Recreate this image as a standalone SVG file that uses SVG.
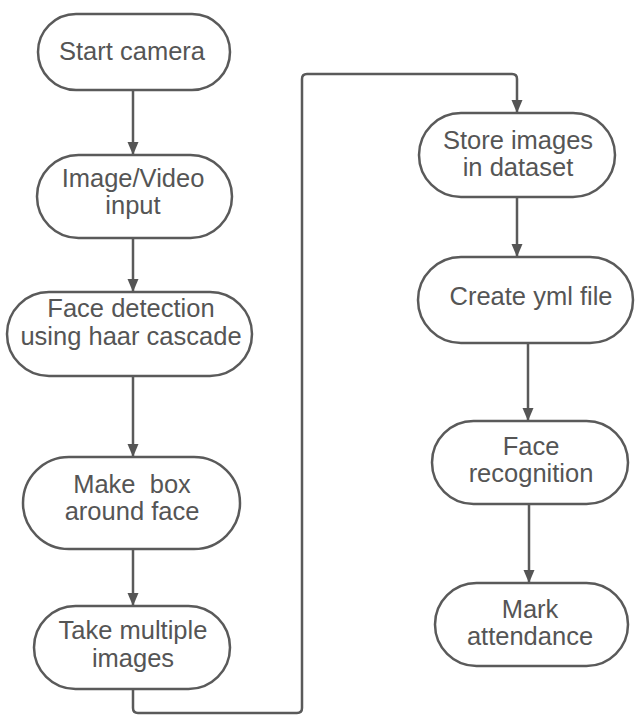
<svg xmlns="http://www.w3.org/2000/svg" width="638" height="719" viewBox="0 0 638 719">
<style>
.n{fill:#fff;stroke:#5a5a5a;stroke-width:2.5}
.t{font-family:"Liberation Sans",Arial,sans-serif;font-size:25.5px;fill:#555;text-anchor:middle}
.c{fill:none;stroke:#5a5a5a;stroke-width:2.5}
</style>
<defs>
<marker id="ah" markerUnits="userSpaceOnUse" markerWidth="14" markerHeight="12" refX="13" refY="5.5" orient="auto">
<path d="M0,0 L13,5.5 L0,11 z" fill="#555"/>
</marker>
</defs>
<rect width="638" height="719" fill="#fff"/>
<g id="connectors">
<path class="c" d="M133,90 V155" marker-end="url(#ah)"/>
<path class="c" d="M133,238 V292" marker-end="url(#ah)"/>
<path class="c" d="M133,376 V457" marker-end="url(#ah)"/>
<path class="c" d="M133,549 V606" marker-end="url(#ah)"/>
<path class="c" d="M133,689 V708 Q133,713 138,713 H297 Q302,713 302,708 V79 Q302,74 307,74 H512 Q517,74 517,79 V113" marker-end="url(#ah)"/>
<path class="c" d="M517,197 V257" marker-end="url(#ah)"/>
<path class="c" d="M528,343 V421" marker-end="url(#ah)"/>
<path class="c" d="M529,504 V583" marker-end="url(#ah)"/>
</g>
<g id="start-camera">
<rect class="n" x="38" y="14" width="192" height="76" rx="38"/>
<text class="t" x="132" y="60">Start camera</text>
</g>
<g id="image-video-input">
<rect class="n" x="37" y="155" width="195" height="83" rx="41.5"/>
<text class="t" x="133" y="187">Image/Video</text>
<text class="t" x="133" y="214">input</text>
</g>
<g id="face-detection">
<rect class="n" x="7" y="292" width="245" height="84" rx="42"/>
<text class="t" x="131" y="317">Face detection</text>
<text class="t" x="131" y="345">using haar cascade</text>
</g>
<g id="make-box">
<rect class="n" x="23" y="457" width="217" height="92" rx="46"/>
<text class="t" x="132" y="493" xml:space="preserve">Make  box</text>
<text class="t" x="132" y="520">around face</text>
</g>
<g id="take-multiple-images">
<rect class="n" x="34" y="606" width="196" height="83" rx="41.5"/>
<text class="t" x="133" y="639">Take multiple</text>
<text class="t" x="133" y="667">images</text>
</g>
<g id="store-images">
<rect class="n" x="419" y="113" width="196" height="84" rx="42"/>
<text class="t" x="518" y="149">Store images</text>
<text class="t" x="518" y="176">in dataset</text>
</g>
<g id="create-yml">
<rect class="n" x="418" y="257" width="215" height="86" rx="43"/>
<text class="t" x="531" y="305">Create yml file</text>
</g>
<g id="face-recognition">
<rect class="n" x="432" y="421" width="196" height="83" rx="41.5"/>
<text class="t" x="531" y="455">Face</text>
<text class="t" x="531" y="482">recognition</text>
</g>
<g id="mark-attendance">
<rect class="n" x="435" y="583" width="193" height="83" rx="41.5"/>
<text class="t" x="530" y="618">Mark</text>
<text class="t" x="530" y="645">attendance</text>
</g>
</svg>
